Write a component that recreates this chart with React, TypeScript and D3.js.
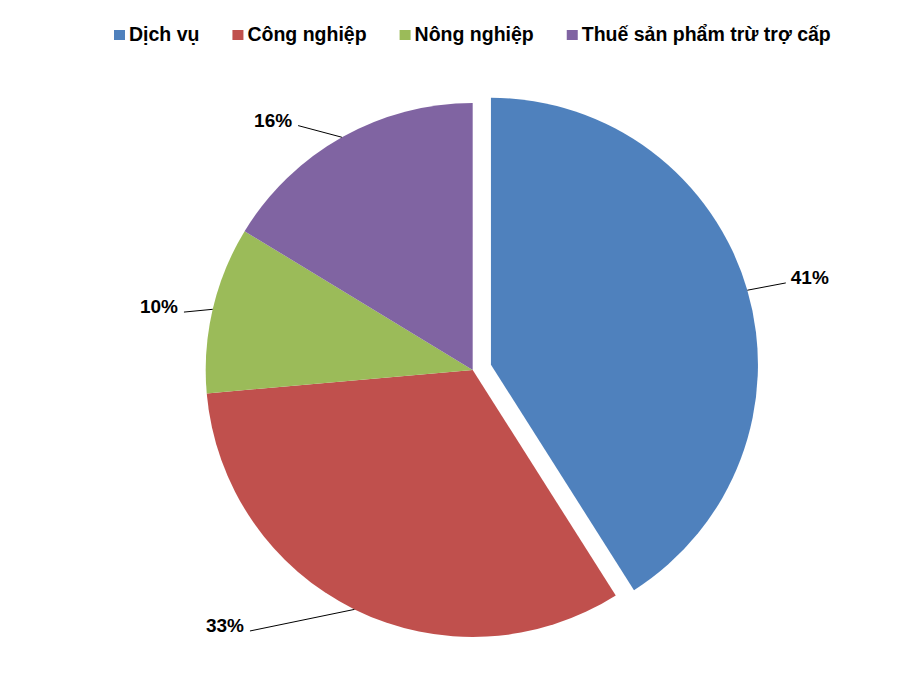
import { useRef, useEffect } from "react"
import * as d3 from "d3"

const categories = ["Dịch vụ", "Công nghiệp", "Nông nghiệp", "Thuế sản phẩm trừ trợ cấp"]
const shares = [41.0, 32.6, 10.1, 16.3]
const colors = ["#4F81BD", "#C0504D", "#9BBB59", "#8064A2"]

// label layout: angle shift from the slice middle (deg) and radius factor of the leader end
const labelShift = [0.7, 14.2, -1.8, -6.2]
const labelRadius = [1.146, 1.285, 1.103, 1.125]
const explode = [19, 0, 0, 0]

export default function App() {
  const svgRef = useRef<SVGSVGElement>(null)

  function drawChart() {
    const width = 924
    const height = 692
    const cx = 472.7
    const cy = 370
    const radius = 267
    const fontFamily = "Arial, 'Liberation Sans', sans-serif"

    const svg = d3.select(svgRef.current).attr("width", width).attr("height", height)
    svg.selectAll("*").remove()
    svg.append("rect").attr("width", width).attr("height", height).attr("fill", "#fff")

    const pie = d3
      .pie<number>()
      .sort(null)
      .value((d) => d)
    const arcs = pie(shares)
    const arc = d3.arc<d3.PieArcDatum<number>>().innerRadius(0).outerRadius(radius)
    const total = d3.sum(shares)
    const pct = d3.format(".0%")

    const chart = svg.append("g").attr("transform", `translate(${cx}, ${cy})`)

    const slices = chart
      .selectAll("g")
      .data(arcs)
      .enter()
      .append("g")
      .attr("transform", (d, i) => {
        const mid = (d.startAngle + d.endAngle) / 2
        return `translate(${explode[i] * Math.sin(mid)}, ${-explode[i] * Math.cos(mid)})`
      })

    slices
      .append("path")
      .attr("d", arc)
      .attr("fill", (d, i) => colors[i])

    // leader lines + labels
    slices.each(function (d, i) {
      const g = d3.select(this)
      const mid = (d.startAngle + d.endAngle) / 2
      const a = mid + (labelShift[i] * Math.PI) / 180
      const r2 = radius * labelRadius[i]
      const x1 = radius * Math.sin(mid)
      const y1 = -radius * Math.cos(mid)
      const x2 = r2 * Math.sin(a)
      const y2 = -r2 * Math.cos(a)
      g.append("line")
        .attr("x1", x1)
        .attr("y1", y1)
        .attr("x2", x2)
        .attr("y2", y2)
        .attr("stroke", "#000")
        .attr("stroke-width", 1)
      const right = Math.sin(a) > 0
      g.append("text")
        .text(pct(d.data / total))
        .attr("x", right ? x2 + 5 : x2 - 6)
        .attr("y", y2 + 1)
        .attr("text-anchor", right ? "start" : "end")
        .style("font-size", "19px")
        .style("font-weight", "bold")
        .style("font-family", fontFamily)
        .attr("fill", "#000")
    })

    // Legend
    const legend = svg.append("g").attr("id", "legend")
    let x = 114
    categories.forEach((c, i) => {
      legend
        .append("rect")
        .attr("x", x)
        .attr("y", 30)
        .attr("width", 11)
        .attr("height", 10)
        .attr("fill", colors[i])
      const t = legend
        .append("text")
        .text(c)
        .attr("x", x + 15)
        .attr("y", 41)
        .style("font-size", "19.5px")
        .style("font-weight", "bold")
        .style("font-family", fontFamily)
        .attr("fill", "#000")
      const w = (t.node() as SVGTextElement).getComputedTextLength()
      x += 15 + w + 33
    })
  }

  useEffect(() => {
    drawChart()
  }, [svgRef])

  return (
    <div style={{ position: "absolute", left: 0, top: 0 }}>
      <svg ref={svgRef}></svg>
    </div>
  )
}
